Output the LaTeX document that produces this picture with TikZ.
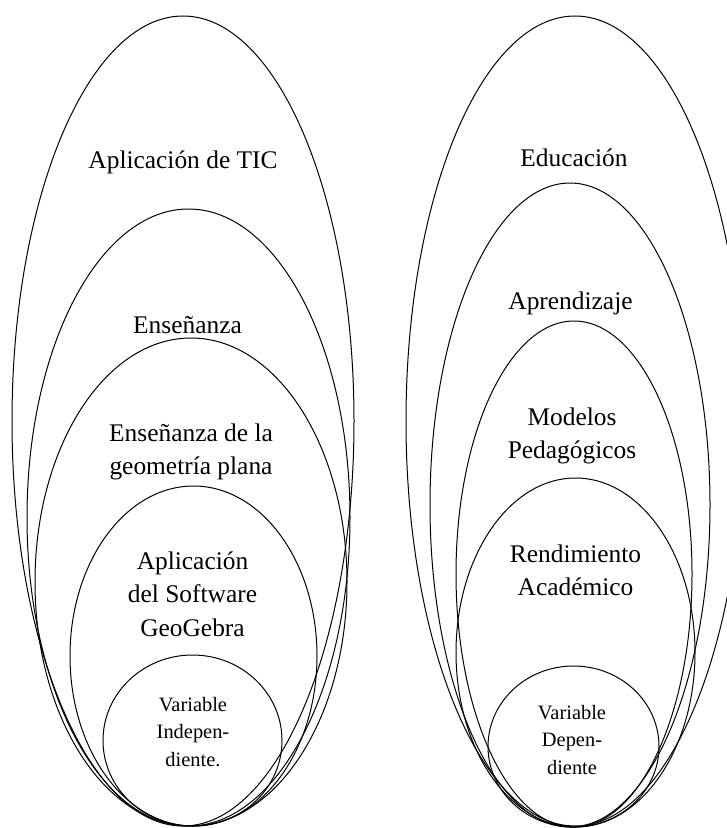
\documentclass[tikz,border=0pt]{standalone}
\usepackage{fontspec}
\setmainfont{Liberation Serif}
\begin{document}
\begin{tikzpicture}[x=1bp,y=-1bp,
  ring/.style={draw=black, line width=1bp},
  biglbl/.style={font=\fontsize{25.5}{33.5}\selectfont, align=center, inner sep=0pt, text=black},
  smalllbl/.style={font=\fontsize{20.5}{27.5}\selectfont, align=center, inner sep=0pt, text=black}]
\useasboundingbox (0,0) rectangle (727,828);
\clip (0,0) rectangle (727,828);
% left group
\draw[ring] (183,421) ellipse [x radius=171, y radius=405];
\draw[ring] (188.5,517.5) ellipse [x radius=161.5, y radius=308.5];
\draw[ring] (191,582) ellipse [x radius=156, y radius=244];
\draw[ring] (193.5,656) ellipse [x radius=123.5, y radius=170];
\draw[ring] (192.5,740.5) ellipse [x radius=89.5, y radius=85.5];
% right group
\draw[ring] (575,421) ellipse [x radius=169, y radius=405];
\draw[ring] (570,505) ellipse [x radius=140, y radius=322];
\draw[ring] (574,574) ellipse [x radius=118, y radius=253];
\draw[ring] (575.5,652.5) ellipse [x radius=119.5, y radius=174.5];
\draw[ring] (573.5,746.5) ellipse [x radius=85.5, y radius=80.5];
% labels
\node[biglbl] (tic) at (183,162) {Aplicación de TIC};
\node[biglbl] (ens) at (187.5,325) {Enseñanza};
\node[biglbl] (geo) at (191,452) {Enseñanza de la\\geometría plana};
\node[biglbl] (soft) at (192.5,594) {Aplicación\\del Software\\GeoGebra};
\node[smalllbl] (vi) at (193,732) {Variable\\Indepen-\\diente.};
\node[biglbl] (edu) at (574,158) {Educación};
\node[biglbl] (apr) at (570.5,303) {Aprendizaje};
\node[biglbl] (mod) at (572,436) {Modelos\\Pedagógicos};
\node[biglbl] (ren) at (575.5,570) {Rendimiento\\Académico};
\node[smalllbl] (vd) at (572,740) {Variable\\Depen-\\diente};
\end{tikzpicture}
\end{document}
